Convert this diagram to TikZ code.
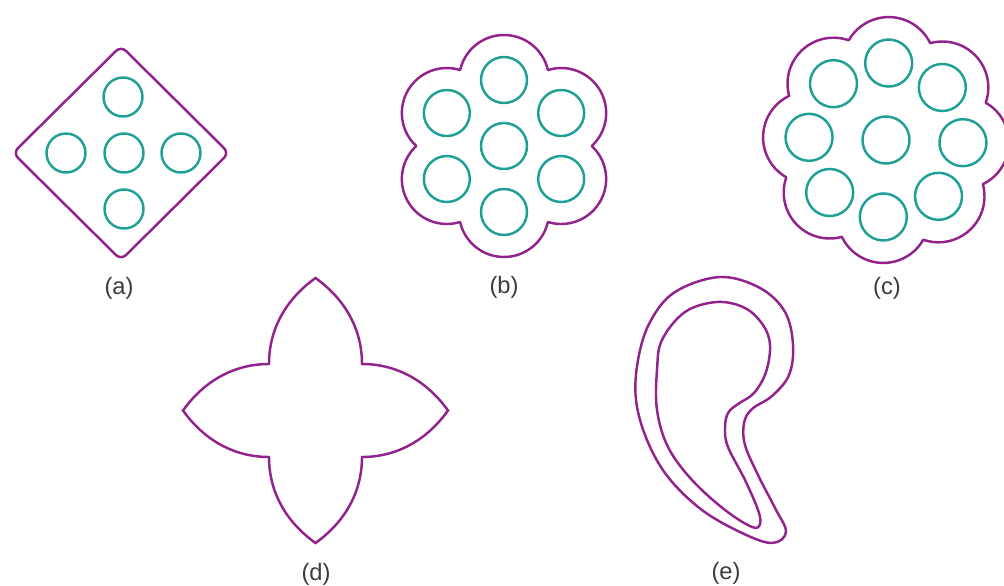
\documentclass[tikz,border=0pt]{standalone}
\usepackage{fontspec}
\setmainfont{Liberation Sans}
\usetikzlibrary{calc}
\definecolor{outlinepurple}{RGB}{146,34,140}
\definecolor{cellteal}{RGB}{30,160,150}
\definecolor{labelgray}{RGB}{60,60,60}
\tikzset{
  outline/.style={draw=outlinepurple, line width=1.4pt, line join=round},
  cell/.style={draw=cellteal, line width=1.4pt},
  lbl/.style={font=\fontsize{13.5}{16}\selectfont, text=labelgray, inner sep=0pt}
}

\begin{document}
\begin{tikzpicture}[x=0.02cm, y=-0.02cm]
  \useasboundingbox (0,0) rectangle (1004,585);

  % (a) diamond
  \draw[outline, rounded corners=4pt]
      (121,46) -- (229,153) -- (121,260) -- (13,153) -- cycle;
  \foreach \p in {(123,97),(66,153),(124,153),(181,153),(124,209)}
    \draw[cell] \p circle[radius=19.5];
  \node[lbl] (la) at (119,288) {(a)};

  % (b) six lobes
  \begin{scope}[shift={(504,146)}]
    \draw[outline] (60:87.75)
      \foreach \a in {90,150,...,390} {arc[start angle=\a-77.17, end angle=\a+77.17, radius=45]} -- cycle;
    \draw[cell] (0,0) circle[radius=23];
    \foreach \a in {90,150,...,390}
      \draw[cell] (\a:66) circle[radius=23];
  \end{scope}
  \node[lbl] (lb) at (504,287) {(b)};

  % (c) eight lobes
  \begin{scope}[shift={(886,140)}, rotate=-2]
    \draw[outline] (-22.5:106.46)
      \foreach \a in {0,45,...,315} {arc[start angle=\a-62.33, end angle=\a+62.33, radius=46]} -- cycle;
    \draw[cell] (0,0) circle[radius=23.5];
    \foreach \a in {0,45,...,315}
      \draw[cell] (\a:77) circle[radius=23.5];
  \end{scope}
  \node[lbl] (lc) at (887,288) {(c)};

  % (d) four-pointed star
  \begin{scope}[shift={(315.5,410.5)}]
    \draw[outline, line join=miter]
      (46.5,-46.5) .. controls (46.5,-81) and (30,-111) .. (0,-132.5)
      .. controls (-30,-111) and (-46.5,-81) .. (-46.5,-46.5)
      .. controls (-81,-46.5) and (-111,-30) .. (-132.5,0)
      .. controls (-111,30) and (-81,46.5) .. (-46.5,46.5)
      .. controls (-46.5,81) and (-30,111) .. (0,132.5)
      .. controls (30,111) and (46.5,81) .. (46.5,46.5)
      .. controls (81,46.5) and (111,30) .. (132.5,0)
      .. controls (111,-30) and (81,-46.5) .. cycle;
  \end{scope}
  \node[lbl] (ld) at (316,574) {(d)};

  % (e) comma, outer and inner outline
  \draw[outline] plot[smooth cycle, tension=0.6] coordinates {
      (720,277) (760,288) (785,312) (793,345) (789,375) (772,396)
      (752,409) (744,423) (745,445) (758,475) (775,508) (786,532)
      (772,543) (742,533) (702,510) (668,477) (647,440) (636,400)
      (638,360) (650,322) (675,292)};
  \draw[outline] plot[smooth cycle, tension=0.6] coordinates {
      (717,302) (745,308) (763,325) (770,345) (766,372) (754,393)
      (738,404) (728,413) (725,428) (728,447) (745,480) (758,510)
      (760,524) (752,527) (725,510) (692,480) (668,447) (657,410)
      (657,370) (662,340) (685,312)};
  \node[lbl] (le) at (726,573) {(e)};
\end{tikzpicture}
\end{document}
